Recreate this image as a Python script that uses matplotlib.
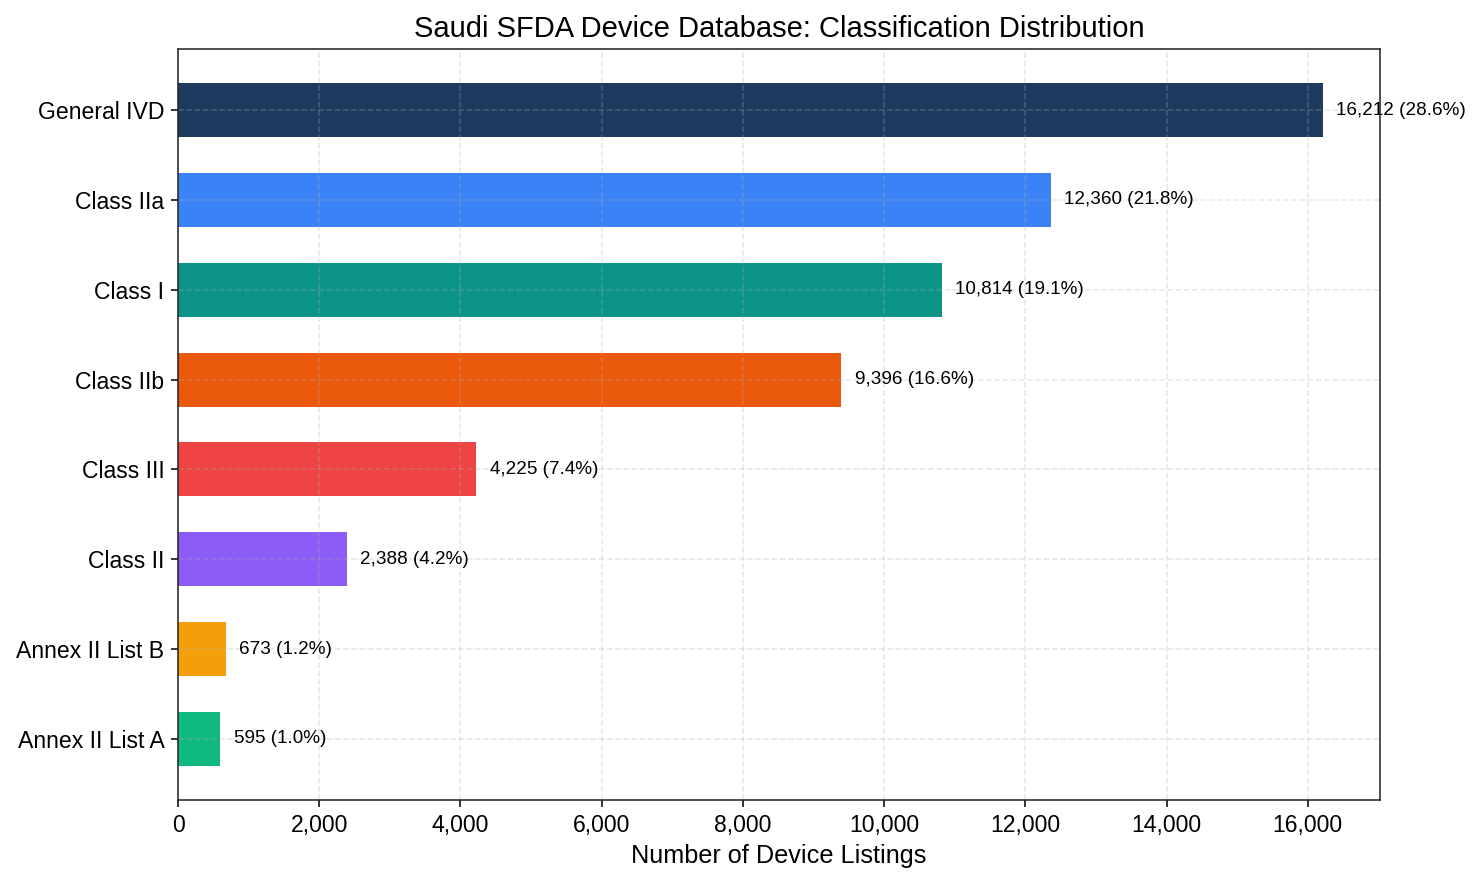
import matplotlib
matplotlib.use("Agg")
import matplotlib.pyplot as plt
from matplotlib.ticker import FuncFormatter

plt.rcParams['font.family'] = ['Liberation Sans', 'DejaVu Sans']

categories = ["Annex II List A", "Annex II List B", "Class II", "Class III",
              "Class IIb", "Class I", "Class IIa", "General IVD"]
counts = [595, 673, 2388, 4225, 9396, 10814, 12360, 16212]
colors = ["#10b981", "#f59e0b", "#8b5cf6", "#ef4444",
          "#ea580c", "#0d9488", "#3b82f6", "#1e3a5f"]

# total listings in the database (includes unlisted/other classes)
total_listings = 56740

DPI = 140
fig = plt.figure(figsize=(1480 / DPI, 881 / DPI), dpi=DPI)
ax = fig.add_axes([0.1203, 0.0919, 0.9324 - 0.1203, 0.9444 - 0.0919])

bars = ax.barh(categories, counts, height=0.6, color=colors, zorder=1)
ax.set_axisbelow('line')
ax.grid(True, linestyle='--', alpha=0.3)

offset = max(counts) * 0.012
for i, v in enumerate(counts):
    ax.text(v + offset, i, f"{v:,} ({v / total_listings * 100:.1f}%)", va='center', ha='left',
            fontsize=9.7, zorder=3)

ax.set_xlim(0, max(counts) * 1.05)
ax.xaxis.set_major_formatter(FuncFormatter(lambda x, p: f"{int(x):,}"))
ax.tick_params(axis='both', labelsize=11.8)
ax.set_xlabel("Number of Device Listings", fontsize=13)
ax.set_title("Saudi SFDA Device Database: Classification Distribution", fontsize=15)
for s in ax.spines.values():
    s.set_color('#222222')

fig.savefig("out.png", dpi=DPI)
